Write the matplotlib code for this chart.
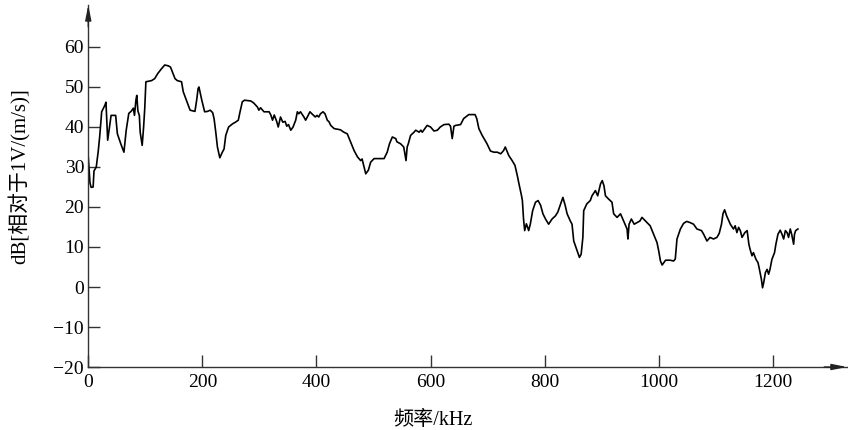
import matplotlib.pyplot as plt

# 频率 (kHz) 与 幅值 dB[相对于1V/(m/s)]
freq_khz = [
    0, 3, 5, 8.5, 10, 14, 17.5, 20, 23.5, 29, 31, 34, 40, 48, 51, 57, 62.5,
    66.5, 71, 75, 79, 81, 83.5, 85, 87, 89.5, 91, 94.5, 97, 99, 101, 111,
    116.5, 122, 128, 134, 140, 144, 146, 152, 156, 163.5, 166.5, 172, 178.5,
    187, 190, 192.5, 194, 199, 204, 209, 213.7, 218, 220.5, 223.5, 226.4,
    230.6, 235, 238, 241, 246, 253, 258, 263, 265.6, 270, 274, 285, 290, 296.5,
    299, 302, 308, 317, 320, 323, 326, 330, 333, 337, 341, 345, 348, 351, 355,
    359, 363.6, 366.5, 369, 372, 378, 381, 384, 388.6, 392, 398, 401, 404, 407,
    411.5, 415, 419, 422, 425, 431, 442, 448, 454, 460, 466, 472, 477.5, 480,
    483.4, 486.4, 491, 495, 501, 518.5, 524, 528, 533, 539, 541, 547.5, 553,
    555, 557, 559, 561, 565, 571, 574, 580, 583, 585.5, 590, 594, 600, 606,
    612, 617, 623.5, 632, 635, 638, 641, 644, 652.6, 658, 667, 678, 681, 684.7,
    690.5, 699, 705, 711, 717, 723, 728, 731, 737, 743, 748, 752, 755, 759.5,
    761, 763, 765, 768, 770, 772, 775, 779, 784, 788.6, 793, 797, 801.5, 807,
    813, 819, 823, 828, 832, 836, 839.4, 845, 848, 851, 857, 861, 864, 867,
    868.5, 874, 880, 883, 889, 893, 898, 901, 904, 906.6, 912, 918, 921, 927,
    933, 939, 944.5, 946, 948, 952, 957, 962, 967, 970.6, 976, 985, 991, 997,
    1000, 1003, 1006, 1012, 1020, 1026, 1029, 1032, 1038, 1043.5, 1049, 1055,
    1061, 1067, 1075, 1078.7, 1084.5, 1090, 1096, 1102, 1106, 1110, 1112.6,
    1115.5, 1119, 1125.5, 1131, 1134, 1137, 1140, 1143, 1146, 1151, 1155,
    1158, 1160, 1163.5, 1166, 1170.5, 1174, 1176, 1180, 1182, 1184, 1187,
    1190, 1192.6, 1195, 1198.4, 1203, 1205.4, 1209, 1213, 1216, 1219, 1222,
    1225, 1227.6, 1230.6, 1233, 1236.5, 1238, 1240, 1244,
]
level_db = [
    32.5, 26, 24.9, 25, 29, 30, 34, 37.6, 43.8, 45.4, 46.2, 36.7, 42.9, 42.9,
    38.3, 35.8, 33.7, 39.2, 43.4, 43.9, 44.7, 42.9, 46.7, 47.9, 44, 42.9, 38.7,
    35.4, 40, 44.7, 51.3, 51.6, 52.1, 53.4, 54.5, 55.5, 55.3, 55, 54.3, 52.1,
    51.6, 51.3, 48.8, 46.7, 44.2, 43.9, 46.7, 49.6, 50, 46.7, 43.8, 43.9, 44.2,
    43.6, 42.1, 38.7, 35, 32.3, 33.7, 34.5, 37.9, 40, 40.8, 41.2, 41.7, 43.5,
    46.3, 46.7, 46.5, 46, 45, 44.2, 44.8, 43.8, 43.8, 43, 41.7, 43, 41.5, 40,
    42.5, 41.2, 41.4, 40.2, 40.6, 39.2, 40, 41.7, 43.8, 43.3, 43.8, 42.5, 41.7,
    42.5, 43.8, 43.3, 42.5, 42.9, 42.5, 43.3, 43.8, 43.3, 41.7, 41.3, 40.4,
    39.6, 39.3, 38.7, 38.3, 36.2, 34.1, 32.5, 31.6, 32, 30, 28.3, 29.2, 31.2,
    32.1, 32.1, 33.7, 35.8, 37.5, 37.1, 36.3, 35.8, 35, 33.3, 31.6, 35, 35.8,
    37.9, 38.7, 39.2, 38.7, 39.2, 38.7, 39.6, 40.4, 40, 39, 39.2, 40, 40.6,
    40.7, 40.2, 37.1, 40.2, 40.4, 40.6, 42.1, 43.1, 43.1, 42.1, 39.6, 37.9,
    35.8, 34, 33.7, 33.7, 33.3, 34.1, 35, 32.9, 31.6, 30.4, 27.9, 25.8, 22.8,
    21.6, 17, 14.1, 15.8, 15, 14.1, 15.8, 19.1, 21.2, 21.6, 20.4, 18.3, 17,
    15.7, 17, 17.8, 18.7, 20.8, 22.4, 20.4, 18.3, 16.5, 15.7, 11.5, 9, 7.4,
    8.2, 12.4, 19.1, 20.8, 21.6, 22.8, 24.1, 22.8, 25.8, 26.6, 25.3, 22.8, 22,
    21.2, 18.3, 17.4, 18.3, 16.3, 14.5, 12, 15.7, 17, 15.7, 16.1, 16.5, 17.4,
    16.6, 15.3, 13.2, 11.1, 9, 6.5, 5.5, 6.7, 6.7, 6.5, 7, 12, 14.5, 15.9,
    16.4, 16.1, 15.7, 14.5, 14.1, 13.2, 11.5, 12.4, 12, 12.4, 13.4, 15.7, 18.3,
    19.3, 17.8, 15.7, 14.5, 15.3, 13.6, 14.9, 14.1, 12.4, 13.6, 14.1, 10.7,
    9.5, 7.8, 8.6, 6.9, 6.1, 4.8, 1.9, -0.2, 1.1, 3.6, 4.4, 3.2, 4.4, 6.9,
    8.6, 10.7, 13.2, 14.2, 13.2, 12, 14.1, 13.6, 12.4, 14.5, 13.2, 10.7, 13.2,
    14.1, 14.5,
]
x_ticks = [0, 200, 400, 600, 800, 1000, 1200]
y_ticks = [-20, -10, 0, 10, 20, 30, 40, 50, 60]

plt.rcParams['font.family'] = ['Liberation Serif', 'Noto Sans CJK SC']

fig = plt.figure(figsize=(8.48, 4.30), dpi=100)
ax = fig.add_axes([0.1041, 0.1465, 0.8947, 0.8419])

ax.plot(freq_khz, level_db, color='black', linewidth=1.2)

ax.set_xlim(0, 1330)
ax.set_ylim(-20, 70.5)
ax.set_xticks(x_ticks)
ax.set_yticks(y_ticks)

for s in ['top', 'right']:
    ax.spines[s].set_visible(False)
for s in ['left', 'bottom']:
    ax.spines[s].set_color('#333333')
    ax.spines[s].set_linewidth(1.0)

ax.tick_params(direction='in', length=8.5, width=1.0, color='#333333',
               labelsize=14, labelcolor='black')
ax.tick_params(axis='x', pad=5)
ax.tick_params(axis='y', pad=3)

# flechas al final de los ejes
arrow = dict(arrowstyle='-|>,head_length=0.9,head_width=0.18',
             color='#222222', lw=1.0, shrinkA=0, shrinkB=0)
ax.annotate('', xy=(1.0, 0), xytext=(0.97, 0), xycoords='axes fraction',
            arrowprops=arrow, annotation_clip=False)
ax.annotate('', xy=(0, 1.0), xytext=(0, 0.94), xycoords='axes fraction',
            arrowprops=arrow, annotation_clip=False)

fig.text(433 / 848, 1 - 420 / 430, '频率/kHz', ha='center', va='center',
         fontsize=14.5)
fig.text(20 / 848, 1 - 176 / 430, 'dB[相对于1V/(m/s)]', ha='center',
         va='center', rotation=90, fontsize=15)

plt.savefig('out.png', dpi=100)
plt.close()
